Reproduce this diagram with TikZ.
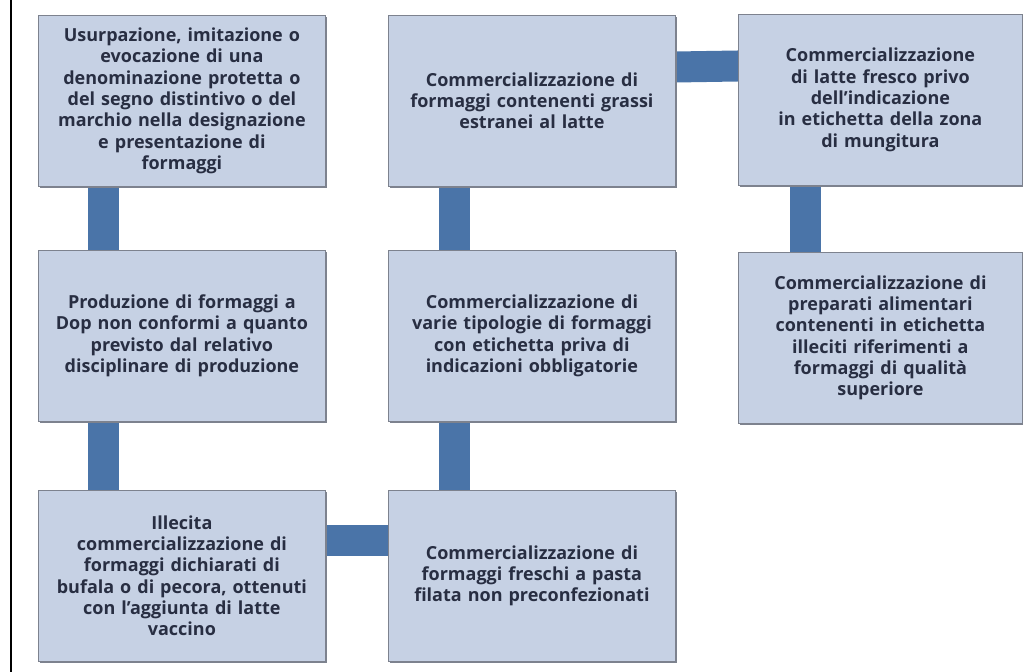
\documentclass[tikz,border=0pt]{standalone}
\usepackage{fontspec}
\setmainfont{Open Sans}
\usetikzlibrary{backgrounds,shadows}
\definecolor{boxfill}{RGB}{198,209,228}
\definecolor{boxline}{RGB}{125,130,142}
\definecolor{linkblue}{RGB}{74,116,168}
\definecolor{boxtext}{RGB}{40,46,66}
\tikzset{
  reato/.style={draw=boxline, line width=0.8pt, fill=boxfill, anchor=north west,
    minimum width=287pt, minimum height=171pt, inner sep=0pt, text width=284pt,
    align=center, text=boxtext, font=\bfseries\fontsize{18}{21.3}\selectfont,
    drop shadow={shadow xshift=1.5pt, shadow yshift=-1.5pt, fill=boxline, opacity=1}},
  link/.style={draw=linkblue, line width=31pt}
}
\begin{document}
\begin{tikzpicture}[x=1pt,y=1pt]
  \useasboundingbox (0,0) rectangle (1023,672);
  \draw[line width=2pt] (11,0) -- (11,672);

  % prima colonna
  \node[reato] (usurp) at (38,657) {Usurpazione, imitazione o\\ evocazione di una\\ denominazione protetta o\\ del segno distintivo o del\\ marchio nella designazione\\ e presentazione di\\ formaggi};
  \node[reato] (dop) at (38,422) {Produzione di formaggi a\\ Dop non conformi a quanto\\ previsto dal relativo\\ disciplinare di produzione};
  \node[reato] (bufala) at (38,182) {Illecita\\ commercializzazione di\\ formaggi dichiarati di\\ bufala o di pecora, ottenuti\\ con l'aggiunta di latte\\ vaccino};

  % seconda colonna
  \node[reato] (grassi) at (388,657) {Commercializzazione di\\ formaggi contenenti grassi\\ estranei al latte};
  \node[reato] (etich) at (388,422) {Commercializzazione di\\ varie tipologie di formaggi\\ con etichetta priva di\\ indicazioni obbligatorie};
  \node[reato] (filata) at (388,182) {Commercializzazione di\\ formaggi freschi a pasta\\ filata non preconfezionati};

  % terza colonna
  \node[reato, minimum width=284pt] (latte) at (738,658) {Commercializzazione\\ di latte fresco privo\\ dell'indicazione\\ in etichetta della zona\\ di mungitura};
  \node[reato, minimum width=284pt] (prep) at (738,420) {Commercializzazione di\\ preparati alimentari\\ contenenti in etichetta\\ illeciti riferimenti a\\ formaggi di qualità\\ superiore};

  \begin{scope}[on background layer]
    \draw[link] ([xshift=65pt]usurp.south west) -- ([xshift=65pt]dop.north west);
    \draw[link] ([xshift=65pt]dop.south west) -- ([xshift=65pt]bufala.north west);
    \draw[link] ([xshift=66pt]grassi.south west) -- ([xshift=66pt]etich.north west);
    \draw[link] ([xshift=66pt]etich.south west) -- ([xshift=66pt]filata.north west);
    \draw[link] ([xshift=67pt]latte.south west) -- ([xshift=67pt]prep.north west);
    \draw[link] ([yshift=-52pt]grassi.north east) -- ([yshift=-52pt]latte.north west);
    \draw[link] ([yshift=-51pt]bufala.north east) -- ([yshift=-51pt]filata.north west);
  \end{scope}
\end{tikzpicture}
\end{document}
